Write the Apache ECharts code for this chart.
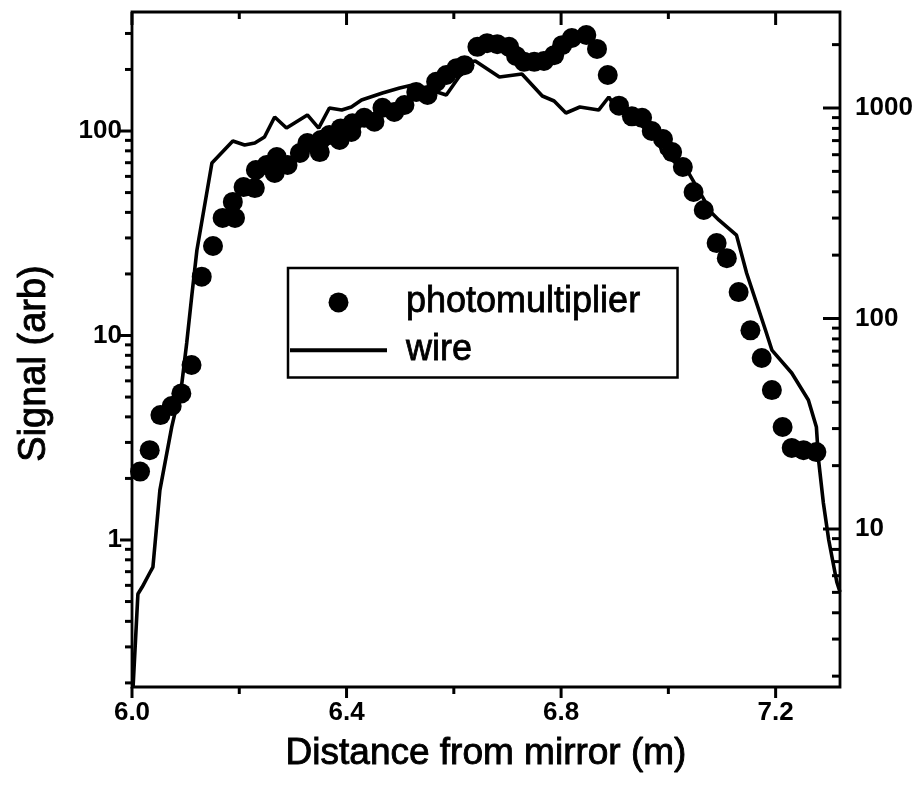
<!DOCTYPE html>
<html><head><meta charset="utf-8">
<script src="https://cdn.jsdelivr.net/npm/echarts@6/dist/echarts.min.js"></script>
<style>html,body{margin:0;padding:0;background:#fff}#c{width:919px;height:791px}</style>
</head><body><div id="c"></div>
<script>
// ---- data ----
const pmX = [6.015,6.033,6.053,6.074,6.092,6.111,6.130,6.151,6.169,6.188,6.192,6.208,6.229,6.231,6.251,6.266,6.270,6.290,6.313,6.327,6.350,6.352,6.368,6.387,6.389,6.409,6.411,6.433,6.452,6.467,6.489,6.508,6.530,6.551,6.567,6.586,6.605,6.620,6.644,6.662,6.681,6.703,6.716,6.731,6.750,6.768,6.787,6.802,6.820,6.847,6.867,6.887,6.908,6.932,6.951,6.969,6.990,7.007,7.027,7.047,7.066,7.090,7.109,7.131,7.153,7.174,7.193,7.213,7.230,7.252,7.276];
const pmY = [2.16,2.75,4.08,4.52,5.21,7.17,19.4,27.4,37.6,45.0,37.6,53.2,52.6,64.5,68.2,62.3,74.6,68.2,78.1,87.4,78.9,90.4,95.6,90.4,103,98.9,109,116,111,130,124,134,155,150,174,188,203,210,258,269,266,258,233,218,218,220,235,263,285,295,252,188,133,118,116,100,91.4,78.9,66.7,50.3,41.1,28.3,23.9,16.3,10.6,7.76,5.41,3.57,2.82,2.75,2.69];
const wireX = [6.002,6.011,6.019,6.033,6.039,6.052,6.074,6.093,6.102,6.112,6.121,6.149,6.188,6.210,6.229,6.247,6.266,6.288,6.327,6.348,6.368,6.391,6.409,6.428,6.467,6.499,6.523,6.551,6.586,6.629,6.640,6.685,6.727,6.765,6.787,6.809,6.835,6.870,6.889,6.902,6.932,6.982,6.988,7.038,7.081,7.094,7.127,7.146,7.181,7.193,7.230,7.261,7.276,7.280,7.289,7.299,7.314,7.320];
const wireY = [1.78,4.91,5.30,6.18,6.59,15.3,30.5,49.4,76.5,132,211,548,697,667,682,728,906,803,927,803,1000,978,1011,1091,1178,1245,1286,1230,1153,1654,1672,1403,1450,1140,1080,947,1011,978,1128,1000,906,697,618,491,317,294,249,164,88.2,70.8,55.1,41.0,30.5,21.3,13.3,8.87,5.60,5.02];

const xMajor = [6.0, 6.4, 6.8, 7.2];
const xMinor = [6.2, 6.6, 7.0];
const leftMajor = [1, 10, 100];
const leftMinor = [0.2,0.3,0.4,0.5,0.6,0.7,0.8,0.9,2,3,4,5,6,7,8,9,20,30,40,50,60,70,80,90,200,300];
const rightMajor = [10, 100, 1000];
const rightMinor = [2,3,4,5,6,7,8,9,20,30,40,50,60,70,80,90,200,300,400,500,600,700,800,900,2000];

const X_MIN = 6.0, X_MAX = 7.32;
const L_MIN = 0.191, L_MAX = 382;
const R_MIN = 1.776, R_MAX = 2858;
const FONT = '"Liberation Sans", Arial, Helvetica, sans-serif';

function near(list, v){ return list.some(t => Math.abs(t - v) < 1e-6 * Math.max(1, Math.abs(t))); }

const chart = echarts.init(document.getElementById('c'), null, { renderer: 'canvas' });
chart.setOption({
  animation: false,
  backgroundColor: '#fff',
  grid: { left: 132, right: 79, top: 12, bottom: 104, show: true, borderColor: '#000', borderWidth: 2.8, backgroundColor: 'transparent' },
  legend: {
    left: 288, top: 268, orient: 'vertical',
    data: [ { name: 'photomultiplier', icon: 'circle' }, { name: 'wire', icon: 'path://M0,0H100V4H0Z' } ],
    itemWidth: 97, itemHeight: 20, itemGap: 11, padding: [16, 37, 9, 2],
    borderColor: '#000', borderWidth: 2.5, borderRadius: 0, backgroundColor: '#fff', selectedMode: false,
    itemStyle: { color: '#000', opacity: 1 },
    textStyle: { fontSize: 36, color: '#000', fontFamily: FONT, lineHeight: 36, padding: [0, 0, 0, 14], textBorderColor: '#000', textBorderWidth: 0.8 }
  },
  xAxis: [{
    type: 'value', min: X_MIN, max: X_MAX, interval: 0.4,
    axisLine: { show: false }, axisTick: { show: false }, splitLine: { show: false },
    axisLabel: { fontSize: 26, fontWeight: 'bold', color: '#000', fontFamily: FONT, margin: 13,
      formatter: v => near(xMajor, v) ? v.toFixed(1) : '' },
    name: 'Distance from mirror (m)', nameLocation: 'middle', nameGap: 48,
    nameTextStyle: { fontSize: 37, color: '#000', fontFamily: FONT, textBorderColor: '#000', textBorderWidth: 0.9 }
  }],
  yAxis: [{
    type: 'log', logBase: 10, min: L_MIN, max: L_MAX, position: 'left',
    axisLine: { show: false }, axisTick: { show: false }, splitLine: { show: false },
    axisLabel: { fontSize: 26, fontWeight: 'bold', color: '#000', fontFamily: FONT, margin: 10,
      formatter: v => near(leftMajor, v) ? String(Math.round(v)) : '' },
    name: 'Signal (arb)', nameLocation: 'middle', nameGap: 78,
    nameTextStyle: { fontSize: 38, color: '#000', fontFamily: FONT, textBorderColor: '#000', textBorderWidth: 0.9, padding: [0, 28, 0, 0] }
  }, {
    type: 'log', logBase: 10, min: R_MIN, max: R_MAX, position: 'right',
    axisLine: { show: false }, axisTick: { show: false }, splitLine: { show: false },
    axisLabel: { fontSize: 26, fontWeight: 'bold', color: '#000', fontFamily: FONT, margin: 15,
      formatter: v => near(rightMajor, v) ? String(Math.round(v)) : '' }
  }],
  series: [
    { name: 'photomultiplier', type: 'scatter', yAxisIndex: 0, symbol: 'circle', symbolSize: 20,
      itemStyle: { color: '#000', opacity: 1 }, data: pmX.map((x, i) => [x, pmY[i]]), z: 3 },
    { name: 'wire', type: 'line', yAxisIndex: 1, symbol: 'none', showSymbol: false,
      lineStyle: { color: '#000', width: 3.6 }, itemStyle: { color: '#000' },
      data: wireX.map((x, i) => [x, wireY[i]]), z: 4 }
  ]
});

// ---- tick marks, positioned through the library's own axis scales ----
const px = v => chart.convertToPixel({ xAxisIndex: 0 }, v);
const pyL = v => chart.convertToPixel({ yAxisIndex: 0 }, v);
const pyR = v => chart.convertToPixel({ yAxisIndex: 1 }, v);
const xL = px(X_MIN), xR = px(X_MAX), yB = pyL(L_MIN), yT = pyL(L_MAX);
const ticks = [];
function tick(x1, y1, x2, y2) {
  ticks.push({ type: 'line', silent: true, z: 100,
    shape: { x1, y1, x2, y2 }, style: { stroke: '#000', lineWidth: 3 } });
}
xMajor.forEach(v => { const x = px(v); tick(x, yB, x, yB + 11); tick(x, yT, x, yT + 13); });
xMinor.forEach(v => { const x = px(v); tick(x, yB, x, yB + 7); tick(x, yT, x, yT + 7); });
leftMajor.forEach(v => { const y = pyL(v); tick(xL, y, xL - 12, y); });
leftMinor.forEach(v => { const y = pyL(v); tick(xL, y, xL - 7, y); });
rightMajor.forEach(v => { const y = pyR(v); tick(xR, y, xR - 17, y); });
rightMinor.forEach(v => { const y = pyR(v); tick(xR, y, xR - 8, y); });
chart.setOption({ graphic: ticks });
</script>
</body></html>
